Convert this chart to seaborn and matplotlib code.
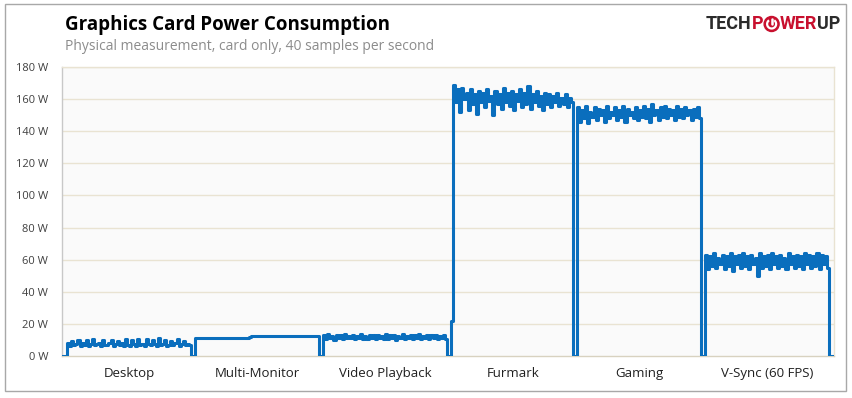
import numpy as np
import pandas as pd
import matplotlib
matplotlib.use("Agg")
import matplotlib.pyplot as plt
import seaborn as sns
from matplotlib.patches import Rectangle, Circle, Arc
from matplotlib.lines import Line2D

categories = ["Desktop", "Multi-Monitor", "Video Playback", "Furmark", "Gaming", "V-Sync (60 FPS)"]

desktop_w = [7.8, 6.4, 9.6, 6.8, 7.4, 10.2, 6.3, 8.1, 7.0, 9.9, 6.5, 7.6, 10.4, 6.6, 7.2,
             8.4, 6.3, 9.8, 7.1, 6.6, 7.9, 10.1, 6.4, 7.3, 9.5, 6.7, 7.8, 6.2, 10.6, 7.0,
             6.5, 9.7, 7.4, 6.3, 10.3, 6.8, 7.7, 6.4, 10.8, 7.2, 6.6, 9.9, 7.5, 6.3, 10.9,
             6.9, 7.6, 10.2, 6.4, 7.1, 9.4, 6.7, 7.8, 10.5, 6.2, 7.3, 9.1, 6.8, 7.5, 6.6]
multi_w = [11.4, 11.3, 11.5, 11.4, 11.3, 11.4, 11.5, 11.3, 11.4, 11.4, 11.5, 11.3, 11.4, 11.4, 11.3,
           11.5, 11.4, 11.4, 11.3, 11.4, 11.5, 11.4, 11.3, 11.4, 11.4, 11.5, 11.9, 12.4, 12.3, 12.5,
           12.4, 12.3, 12.5, 12.6, 12.4, 12.3, 12.5, 12.4, 12.6, 12.3, 12.4, 12.5, 12.7, 12.4, 12.3,
           12.5, 12.4, 12.6, 12.5, 12.3, 12.4, 12.5, 12.4, 12.6, 12.3, 12.5, 12.4, 12.3, 12.5, 12.4]
video_w = [12.8, 10.6, 13.4, 11.0, 12.6, 10.2, 13.1, 11.3, 12.9, 10.5, 13.6, 10.9, 12.4, 11.2, 13.2,
           10.4, 12.7, 11.1, 13.5, 10.7, 12.5, 10.3, 13.0, 11.4, 12.8, 10.6, 13.3, 11.0, 12.6, 10.8,
           13.7, 10.5, 12.9, 11.2, 13.1, 10.1, 12.7, 11.3, 13.4, 10.6, 12.5, 11.0, 13.2, 10.4, 12.8,
           11.1, 13.6, 10.7, 12.6, 10.9, 13.0, 10.3, 12.9, 11.2, 13.3, 10.6, 12.4, 11.0, 12.8, 10.5]
furmark_w = [169, 158, 166, 152, 167, 160, 164, 153, 166, 157, 163, 151, 165, 158, 164,
             155, 166, 159, 162, 150, 165, 157, 163, 154, 167, 158, 164, 156, 165, 153,
             163, 159, 166, 155, 164, 157, 168, 154, 163, 158, 165, 156, 162, 153, 164,
             157, 163, 155, 162, 158, 164, 156, 161, 157, 163, 155, 161, 158]
gaming_w = [155, 146, 153, 148, 156, 145, 152, 149, 155, 147, 154, 150, 153, 146, 156,
            148, 152, 150, 155, 147, 153, 149, 156, 146, 154, 150, 152, 148, 155, 147,
            153, 149, 156, 148, 154, 146, 157, 150, 153, 147, 155, 149, 156, 148, 154,
            150, 153, 147, 156, 149, 154, 148, 155, 150, 153, 147, 154, 149, 155, 148]
vsync_w = [63, 54, 62, 56, 64, 55, 61, 57, 63, 54, 62, 56, 64, 53, 62,
           57, 63, 55, 64, 56, 62, 54, 63, 57, 61, 50, 64, 55, 62, 56,
           63, 54, 64, 57, 62, 55, 63, 56, 61, 54, 64, 57, 62, 55, 63,
           56, 62, 54, 64, 57, 63, 55, 62, 56, 64, 54, 63, 57, 62, 55]

# idle readings between the runs
lead_w = [0, 0, 0]
gap_w = [0, 0]
ramp_w = [0, 0, 22]
tail_w = [0, 0, 0]

yticks = [0, 20, 40, 60, 80, 100, 120, 140, 160, 180]
ytick_labels = [f"{v} W" for v in yticks]

title = "Graphics Card Power Consumption"
subtitle = "Physical measurement, card only, 40 samples per second"

# build the series
segments = [desktop_w, multi_w, video_w, furmark_w, gaming_w, vsync_w]
joins = [gap_w, gap_w, ramp_w, gap_w, gap_w]
power = list(lead_w)
centers = []
for i, seg in enumerate(segments):
    start = len(power)
    power += seg
    centers.append((start + len(power) - 1) / 2)
    if i < len(joins):
        power += joins[i]
power += tail_w
df = pd.DataFrame({"sample": np.arange(len(power)), "power": power})

sns.set_style("white")
plt.rcParams["font.family"] = ["Open Sans", "DejaVu Sans"]

W, H = 852, 398
fig = plt.figure(figsize=(W / 100, H / 100), dpi=100)
ax = fig.add_axes([62 / W, 1 - 356 / H, (834 - 62) / W, (356 - 67) / H])
ax.set_facecolor("#fafafa")

grid_col = "#e9e3d2"
for v in yticks[1:]:
    ax.axhline(v, color=grid_col, lw=1, zorder=0)

sns.lineplot(data=df, x="sample", y="power", ax=ax, color="#0a6ebd", lw=2.2,
             estimator=None, drawstyle="steps-mid", zorder=3)

ax.set_xlim(0, len(power) - 1)
ax.set_ylim(0, 180)
ax.set_yticks(yticks)
ax.set_yticklabels(ytick_labels, fontsize=8, color="#404040")
ax.set_xticks(centers)
ax.set_xticklabels(categories, fontsize=9.5, color="#202020")
ax.tick_params(axis="both", length=0)
ax.tick_params(axis="y", pad=10)
ax.tick_params(axis="x", pad=8)
ax.set_xlabel("")
ax.set_ylabel("")
for side in ["top", "right"]:
    ax.spines[side].set_color(grid_col)
    ax.spines[side].set_linewidth(1)
ax.spines["left"].set_color("#c8c8c8")
ax.spines["bottom"].set_color("#d8d2c0")
ax.spines["left"].set_linewidth(1)
ax.spines["bottom"].set_linewidth(1)

# outer frame
fig.patches.append(Rectangle((5 / W, 1 - 391 / H), (846 - 5) / W, (391 - 4) / H,
                             transform=fig.transFigure, fill=False,
                             edgecolor="#a8a8a8", lw=1))

fig.text(65 / W, 1 - 25 / H, title, fontsize=13.5, fontweight="bold",
         color="#000000", va="center", ha="left")
fig.text(65 / W, 1 - 47 / H, subtitle, fontsize=10, color="#8c8c8c",
         va="center", ha="left")

# logo
fig.canvas.draw()
r = fig.canvas.get_renderer()
dark, red = "#2b2b2b", "#c8102e"
logo_fam = ["Roboto", "DejaVu Sans"]
logo_y = 1 - 24 / H
t2 = fig.text(706 / W, logo_y, "TECH", fontsize=13, fontweight="bold", color=dark,
              va="center", ha="left", family=logo_fam)
bb2 = t2.get_window_extent(r)
tp = fig.text(bb2.x1 / W, logo_y, "P", fontsize=13, fontweight="bold", color=red,
              va="center", ha="left", family=logo_fam)
bbp = tp.get_window_extent(r)
cx = bbp.x1 + 8.5
cy = logo_y * H
fig.patches.append(Circle((cx, cy), 7.5, transform=None, color=red, zorder=5))
fig.patches.append(Arc((cx, cy), 9, 9, theta1=125, theta2=415, transform=None,
                       color="white", lw=1.6, zorder=6))
fig.lines.append(Line2D([cx, cx], [cy, cy + 5.5], transform=None, color="white",
                        lw=1.8, zorder=6))
tw = fig.text((cx + 8.5) / W, logo_y, "WER", fontsize=13, fontweight="bold", color=red,
              va="center", ha="left", family=logo_fam)
bbw = tw.get_window_extent(r)
fig.text(bbw.x1 / W, logo_y, "UP", fontsize=13, fontweight="bold", color=dark,
         va="center", ha="left", family=logo_fam)

fig.savefig("out.png", dpi=100, facecolor="white")
